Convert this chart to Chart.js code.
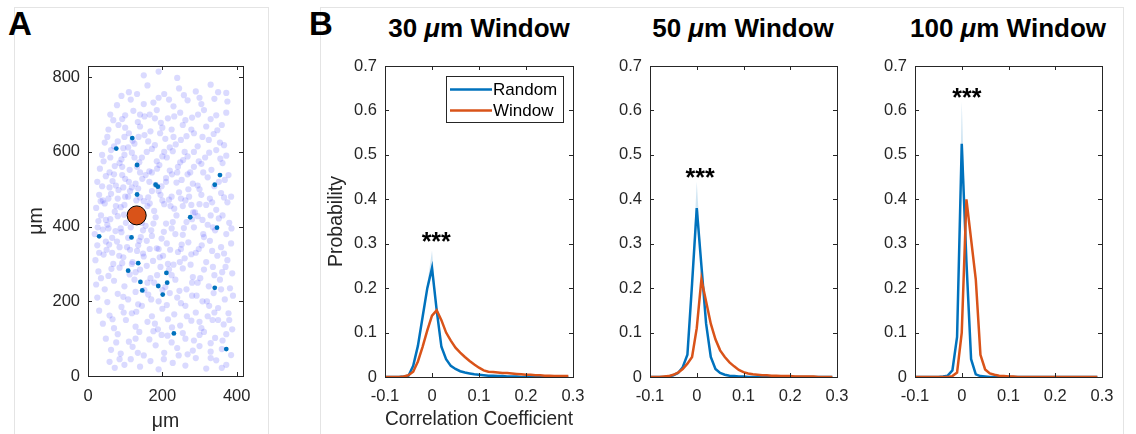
<!DOCTYPE html>
<html>
<head>
<meta charset="utf-8">
<script src="https://cdn.jsdelivr.net/npm/chart.js@4.4.1/dist/chart.umd.min.js"></script>
<style>
  body { margin: 0; background: #fff; width: 1136px; height: 434px; overflow: hidden; position: relative;
         font-family: "Liberation Sans", Arial, sans-serif; }
  canvas { position: absolute; left: 0; top: 0; }
  .frame { position: absolute; top: 7px; bottom: -2px; border: 1px solid #e4e4e4; border-bottom: none; }
  .letter { position: absolute; font-weight: bold; font-size: 33px; line-height: 33px; color: #000; }
  .title { position: absolute; top: 15px; width: 260px; text-align: center; white-space: nowrap;
           font-weight: bold; font-size: 26px; line-height: 26px; color: #000; }
</style>
</head>
<body>
<div class="frame" style="left:14px;width:253px"></div>
<div class="frame" style="left:320px;width:802px"></div>
<div class="letter" style="left:8px;top:7px">A</div>
<div class="letter" style="left:309px;top:7px">B</div>
<div class="title" style="left:349px">30 <i>μ</i>m Window</div>
<div class="title" style="left:613px">50 <i>μ</i>m Window</div>
<div class="title" style="left:878px">100 <i>μ</i>m Window</div>
<canvas id="chartA" width="1136" height="434"></canvas>
<canvas id="chart30" width="1136" height="434"></canvas>
<canvas id="chart50" width="1136" height="434"></canvas>
<canvas id="chart100" width="1136" height="434"></canvas>
<script>
// ------------------- DATA -------------------
const bins = [-0.1, -0.09, -0.08, -0.07, -0.06, -0.05, -0.04, -0.03, -0.02, -0.01,
  0, 0.01, 0.02, 0.03, 0.04, 0.05, 0.06, 0.07, 0.08, 0.09,
  0.1, 0.11, 0.12, 0.13, 0.14, 0.15, 0.16, 0.17, 0.18, 0.19,
  0.2, 0.21, 0.22, 0.23, 0.24, 0.25, 0.26, 0.27, 0.28, 0.29];

// 30 um window
const random30 = [0, 0, 0, 0, 0.001, 0.003, 0.025, 0.07, 0.135, 0.2,
  0.245, 0.15, 0.068, 0.04, 0.025, 0.018, 0.013, 0.01, 0.008, 0.006,
  0.005, 0.004, 0.003, 0.003, 0.002, 0.002, 0.001, 0.001, 0.001, 0,
  0, 0, 0, 0, 0, 0, 0, 0, 0, 0];
const random30Hi = [0, 0, 0, 0, 0.001, 0.003, 0.025, 0.07, 0.135, 0.21,
  0.285, 0.16, 0.068, 0.04, 0.025, 0.018, 0.013, 0.01, 0.008, 0.006,
  0.005, 0.004, 0.003, 0.003, 0.002, 0.002, 0.001, 0.001, 0.001, 0,
  0, 0, 0, 0, 0, 0, 0, 0, 0, 0];
const window30 = [0, 0, 0, 0, 0.001, 0.004, 0.012, 0.035, 0.068, 0.105,
  0.138, 0.15, 0.128, 0.1, 0.082, 0.066, 0.055, 0.045, 0.036, 0.028,
  0.021, 0.015, 0.012, 0.011, 0.01, 0.009, 0.009, 0.008, 0.007, 0.006,
  0.005, 0.005, 0.004, 0.004, 0.003, 0.003, 0.002, 0.002, 0.002, 0.002];

// 50 um window
const random50 = [0, 0, 0, 0, 0.001, 0.004, 0.009, 0.022, 0.05, 0.21,
  0.38, 0.25, 0.12, 0.045, 0.018, 0.009, 0.005, 0.003, 0.002, 0.001,
  0.001, 0, 0, 0, 0, 0, 0, 0, 0, 0,
  0, 0, 0, 0, 0, 0, 0, 0, 0, 0];
const random50Hi = [0, 0, 0, 0, 0.001, 0.004, 0.009, 0.022, 0.05, 0.225,
  0.44, 0.265, 0.12, 0.045, 0.018, 0.009, 0.005, 0.003, 0.002, 0.001,
  0.001, 0, 0, 0, 0, 0, 0, 0, 0, 0,
  0, 0, 0, 0, 0, 0, 0, 0, 0, 0];
const window50 = [0, 0, 0, 0.001, 0.002, 0.005, 0.01, 0.018, 0.03, 0.045,
  0.11, 0.22, 0.17, 0.12, 0.085, 0.06, 0.045, 0.033, 0.024, 0.016,
  0.011, 0.008, 0.006, 0.005, 0.004, 0.004, 0.003, 0.003, 0.002, 0.002,
  0.002, 0.001, 0.001, 0.001, 0.001, 0.001, 0, 0, 0, 0];

// 100 um window
const random100 = [0, 0, 0, 0, 0, 0, 0.001, 0.003, 0.015, 0.09,
  0.525, 0.26, 0.04, 0.006, 0.002, 0.001, 0, 0, 0, 0,
  0, 0, 0, 0, 0, 0, 0, 0, 0, 0,
  0, 0, 0, 0, 0, 0, 0, 0, 0, 0];
const random100Hi = [0, 0, 0, 0, 0, 0, 0.001, 0.003, 0.015, 0.1,
  0.62, 0.28, 0.04, 0.006, 0.002, 0.001, 0, 0, 0, 0,
  0, 0, 0, 0, 0, 0, 0, 0, 0, 0,
  0, 0, 0, 0, 0, 0, 0, 0, 0, 0];
const window100 = [0, 0, 0, 0, 0, 0, 0, 0, 0.002, 0.01,
  0.1, 0.4, 0.31, 0.22, 0.05, 0.017, 0.008, 0.005, 0.003, 0.002,
  0.001, 0.001, 0, 0, 0, 0, 0, 0, 0, 0,
  0, 0, 0, 0, 0, 0, 0, 0, 0, 0];

const seriesNames = ["Random", "Window"];
const xTicksB = [-0.1, 0, 0.1, 0.2, 0.3];
const yTicksB = [0, 0.1, 0.2, 0.3, 0.4, 0.5, 0.6, 0.7];
const starX = [0.009, 0.007, 0.011];
const starY = [0.317, 0.462, 0.642];

// panel A: cell positions (um)
const xTicksA = [0, 200, 400];
const yTicksA = [0, 200, 400, 600, 800];
const allCells = [
  [58,38],[72,22],[98,30],[115,45],[140,25],[168,40],[190,18],[228,35],[262,28],[290,48],[318,20],[345,42],[372,30],
  [62,70],[88,60],[120,78],[150,55],[182,82],[205,62],[240,75],[268,58],[300,80],[330,65],[360,72],[385,56],
  [48,100],[80,112],[110,92],[138,118],[165,98],[198,110],[225,90],[255,115],[285,95],[312,118],[342,102],[372,112],
  [40,140],[70,128],[102,150],[128,132],[160,145],[188,125],[215,152],[248,135],[278,148],[305,128],[335,150],[365,138],[388,125],
  [30,175],[58,162],[90,185],[118,168],[145,188],[172,160],[200,180],[232,165],[262,188],[290,170],[322,160],[350,182],[378,168],
  [25,210],[52,198],[80,220],[108,205],[135,192],[162,218],[190,200],[220,222],[250,195],[280,215],[308,200],[338,222],[368,205],[390,215],
  [22,245],[45,232],[70,255],[98,240],[125,258],[152,230],[178,250],[208,238],[235,258],[265,232],[295,250],[325,240],[355,258],[382,235],
  [28,280],[55,268],[85,290],[112,272],[140,285],[168,262],[195,292],[225,270],[255,288],[282,265],[312,285],[340,270],[370,292],[388,275],
  [20,310],[42,325],[68,300],[95,318],[120,305],[148,328],[175,308],[202,322],[230,298],[260,315],[290,330],[318,305],[348,322],[375,310],
  [25,350],[50,338],[78,360],[105,345],[132,335],[158,362],[185,342],[212,355],[242,332],[270,358],[298,340],[328,362],[358,345],[385,355],
  [18,380],[40,392],[65,370],[90,385],[115,398],[142,372],[170,390],[198,368],[225,395],[255,378],[285,398],[312,372],[342,390],[372,380],
  [28,415],[52,405],[80,428],[102,410],[128,432],[155,402],[182,425],[210,408],[238,430],[265,412],[295,428],[322,405],[352,422],[380,410],
  [22,450],[45,462],[72,440],[98,458],[122,445],[150,468],[178,442],[205,460],[232,448],[262,470],[288,438],[318,458],[345,445],[375,465],
  [30,485],[55,475],[82,498],[108,480],[135,502],[162,478],[190,495],[218,472],[245,492],[272,480],[300,500],[328,475],[358,490],[385,480],
  [25,520],[48,535],[75,510],[100,528],[128,515],[155,538],[182,512],[210,530],[238,518],[268,540],[295,510],[322,532],[352,520],[378,538],
  [32,555],[58,545],[85,570],[112,552],[138,572],[165,548],[192,565],[220,550],[248,572],[275,545],[305,568],[332,552],[362,570],
  [38,592],[62,605],[90,580],[118,598],[145,585],[172,608],[200,588],[228,602],[256,578],[285,600],[315,585],[345,605],[372,590],
  [45,625],[70,615],[98,640],[125,622],[152,645],[180,618],[208,635],[236,620],[265,642],[295,615],[325,632],[355,625],
  [55,660],[82,672],[110,650],[140,668],[168,655],[196,678],[225,660],[255,672],[285,650],[318,668],[348,658],
  [60,700],[92,688],[122,710],[152,695],[185,712],[215,690],[248,705],[280,692],[312,712],[345,698],[372,705],
  [78,725],[115,740],[150,728],[190,745],[230,722],[268,738],[305,728],[340,742],[375,735],
  [110,760],[160,778],[205,755],[245,770],[290,762],[330,780],
  [150,805],[190,815],[240,798],
  [60,420],[75,455],[88,395],[100,480],[115,440],[130,470],[145,410],[160,455],[172,495],[58,505],
  [70,540],[92,560],[110,520],[125,585],[140,545],[165,520],[185,575],[200,470],[48,360],[65,330],
  [85,345],[108,370],[118,300],[135,350],[150,320],[172,375],[190,340],[95,610],[120,630],[60,585],
  [40,470],[35,430],[55,395],[80,475],[95,505],[210,520],[225,480],[240,545],[255,455],[270,500],
  [235,380],[250,340],[215,300],[280,420],[300,460],[310,380],[330,430],[205,600],[230,640],[180,690],
  [140,700],[100,665],[260,600],[285,560],[160,250],[200,230],[240,210],[280,250],[320,200],[350,150],
  [35,262],[63,287],[92,302],[128,278],[158,295],[186,270],[218,285],[247,305],[276,298],[302,262],[336,292],[361,278],
  [30,330],[57,352],[84,322],[113,338],[138,362],[166,340],[193,318],[221,338],[252,352],[278,326],[306,350],[334,335],[366,328],
  [26,398],[48,418],[74,388],[97,432],[123,412],[148,390],[176,408],[204,386],[228,412],[258,396],[283,438],[308,418],[336,398],[362,430],[386,395],
  [34,468],[62,488],[88,452],[113,495],[140,478],[166,462],[195,485],[222,455],[250,475],[278,458],[305,485],[334,465],[366,478],
  [38,508],[66,522],[92,538],[118,505],[146,528],[172,545],[198,508],[226,540],[252,525],[282,515],[310,545],[340,508],[368,525],
  [42,575],[72,562],[98,592],[132,560],[158,600],[186,555],[212,585],[242,560],[268,588],[298,575],[326,598],[356,582],
  [52,640],[80,628],[108,612],[136,640],[162,628],[194,650],[220,612],[250,632],[278,660],[308,640],[338,648],[366,618],
  [68,685],[100,698],[134,680],[166,700],[200,665],[232,695],[262,685],[296,700],[330,688],[360,672],
  [90,750],[132,755],[176,732],[218,740],[258,752],[300,745],[350,760],[372,758],
  [95,212],[128,225],[170,205],[212,190],[246,228],[292,215],[326,188],[358,232],
  [66,152],[96,170],[130,172],[180,140],[226,130],[266,160],[300,145],[340,170],[380,150],
  [76,90],[128,100],[176,120],[214,108],[262,100],[300,110],[330,88],[362,95],
  [85,45],[134,62],[204,45],[244,55],[282,68],[330,48],[360,22]
];
const windowCells = [
  [119,637],[76,609],[132,565],[182,512],[188,507],[132,486],[341,512],[355,538],[275,425],[347,397],
  [30,374],[117,371],[135,302],[108,282],[211,276],[141,252],[213,250],[189,241],[146,229],[201,218],
  [341,236],[231,114],[372,72]
];
const seedCell = [[131, 430]];

// ------------------- STYLE -------------------
const BLUE = "#0072BD";
const ORANGE = "#D95319";
const AXIS = "#262626";
const FONT = '"Liberation Sans", Arial, sans-serif';
Chart.defaults.font.family = FONT;
Chart.defaults.color = AXIS;

const toXY = (xs, ys) => xs.map((x, i) => ({ x: x, y: ys[i] }));
const pairs = arr => arr.map(p => ({ x: p[0], y: p[1] }));

// ------------------- MATLAB-STYLE BOX, TICKS, LEGEND, STARS -------------------
const matlabAxes = {
  id: "matlabAxes",
  afterDatasetsDraw(chart, args, opts) {
    const { ctx, chartArea: a, scales } = chart;
    ctx.save();
    ctx.strokeStyle = AXIS;
    ctx.lineWidth = 1;
    ctx.strokeRect(Math.round(a.left) + 0.5, Math.round(a.top) + 0.5,
      Math.round(a.right - a.left), Math.round(a.bottom - a.top));
    const tl = 4;
    ctx.beginPath();
    scales.x.ticks.forEach(t => {
      const px = Math.round(scales.x.getPixelForValue(t.value)) + 0.5;
      ctx.moveTo(px, a.bottom); ctx.lineTo(px, a.bottom - tl);
      ctx.moveTo(px, a.top); ctx.lineTo(px, a.top + tl);
    });
    scales.y.ticks.forEach(t => {
      const py = Math.round(scales.y.getPixelForValue(t.value)) + 0.5;
      ctx.moveTo(a.left, py); ctx.lineTo(a.left + tl, py);
      ctx.moveTo(a.right, py); ctx.lineTo(a.right - tl, py);
    });
    ctx.stroke();

    if (opts.star) {
      const sx = scales.x.getPixelForValue(opts.star[0]);
      const sy = scales.y.getPixelForValue(opts.star[1]);
      ctx.fillStyle = "#000";
      ctx.font = "bold 25px " + FONT;
      ctx.textAlign = "center";
      ctx.textBaseline = "alphabetic";
      ctx.fillText("***", sx, sy + 14);
    }

    if (opts.legend) {
      const lx = Math.round(a.right) - 127, ly = Math.round(a.top) + 10;
      ctx.fillStyle = "#fff";
      ctx.fillRect(lx, ly, 117, 46);
      ctx.strokeStyle = AXIS;
      ctx.lineWidth = 1;
      ctx.strokeRect(lx + 0.5, ly + 0.5, 117, 46);
      ctx.font = "17px " + FONT;
      ctx.textAlign = "left";
      ctx.textBaseline = "middle";
      opts.legend.forEach((item, i) => {
        const y = ly + 13.5 + i * 21;
        ctx.strokeStyle = item.color;
        ctx.lineWidth = 2.5;
        ctx.beginPath();
        ctx.moveTo(lx + 4, y); ctx.lineTo(lx + 46, y);
        ctx.stroke();
        ctx.fillStyle = "#000";
        ctx.fillText(item.label, lx + 47, y + 1);
      });
    }
    ctx.restore();
  }
};

function axisOpts(min, max, tickVals, pad, fitFn, title) {
  return {
    type: "linear",
    min: min,
    max: max,
    afterBuildTicks: s => { s.ticks = tickVals.map(v => ({ value: v })); },
    afterFit: fitFn,
    ticks: {
      padding: pad,
      color: AXIS,
      font: { size: 16.5 },
      callback: v => String(Math.round(v * 100) / 100)
    },
    grid: { display: false, drawTicks: false },
    border: { display: false },
    title: title
  };
}

// ------------------- PANEL A -------------------
new Chart(document.getElementById("chartA"), {
  type: "scatter",
  data: {
    datasets: [
      { data: pairs(seedCell), pointRadius: 9.5, backgroundColor: ORANGE,
        borderColor: "#000", borderWidth: 1, order: 0 },
      { data: pairs(windowCells), pointRadius: 2.4, backgroundColor: BLUE,
        borderWidth: 0, order: 1 },
      { data: pairs(allCells), pointRadius: 3.1, backgroundColor: "rgba(60,60,255,0.19)",
        borderWidth: 0, order: 2 }
    ]
  },
  options: {
    responsive: false,
    animation: false,
    events: [],
    layout: { padding: { left: 13, right: 1136 - 243, top: 66, bottom: 0 } },
    plugins: { legend: { display: false }, tooltip: { enabled: false }, matlabAxes: {} },
    scales: {
      x: axisOpts(0, 417, xTicksA, 11, s => { s.height = 58; },
        { display: true, text: "μm", color: AXIS, font: { size: 19.5 }, padding: { top: 0, bottom: 1 } }),
      y: axisOpts(0, 830, yTicksA, 8, s => { s.width = 75; },
        { display: true, text: "μm", color: AXIS, font: { size: 19.5 }, padding: { top: 12, bottom: 0 } })
    }
  },
  plugins: [matlabAxes]
});

// ------------------- PANEL B -------------------
function makeProbChart(id, left, right, hi, rnd, win, k, withLabels) {
  return new Chart(document.getElementById(id), {
    type: "line",
    data: {
      datasets: [
        { data: toXY(bins, hi), borderWidth: 0, pointRadius: 0, fill: "+1",
          backgroundColor: "rgba(0,114,189,0.18)", order: 2 },
        { label: seriesNames[0], data: toXY(bins, rnd), borderColor: BLUE, borderWidth: 2.5,
          pointRadius: 0, tension: 0, fill: false, order: 1 },
        { label: seriesNames[1], data: toXY(bins, win), borderColor: ORANGE, borderWidth: 2.5,
          pointRadius: 0, tension: 0, fill: false, order: 0 }
      ]
    },
    options: {
      responsive: false,
      animation: false,
      events: [],
      layout: { padding: { left: left - 60, right: 1136 - right, top: 66, bottom: 0 } },
      plugins: {
        legend: { display: false },
        tooltip: { enabled: false },
        matlabAxes: {
          star: [starX[k], starY[k]],
          legend: withLabels ? [
            { label: seriesNames[0], color: BLUE },
            { label: seriesNames[1], color: ORANGE }
          ] : null
        }
      },
      scales: {
        x: axisOpts(-0.1, 0.3, xTicksB, 10, s => { s.height = 57; },
          { display: withLabels, text: "Correlation Coefficient", color: AXIS,
            font: { size: 19.5 }, padding: { top: 0, bottom: 3 } }),
        y: axisOpts(0, 0.7, yTicksB, 8, s => { s.width = 60; },
          { display: withLabels, text: "Probability", color: AXIS,
            font: { size: 19.5 }, padding: { top: 0, bottom: 0 } })
      }
    },
    plugins: [matlabAxes]
  });
}

makeProbChart("chart30", 385, 573, random30Hi, random30, window30, 0, true);
makeProbChart("chart50", 650, 837, random50Hi, random50, window50, 1, false);
makeProbChart("chart100", 915, 1102, random100Hi, random100, window100, 2, false);
</script>
</body>
</html>
